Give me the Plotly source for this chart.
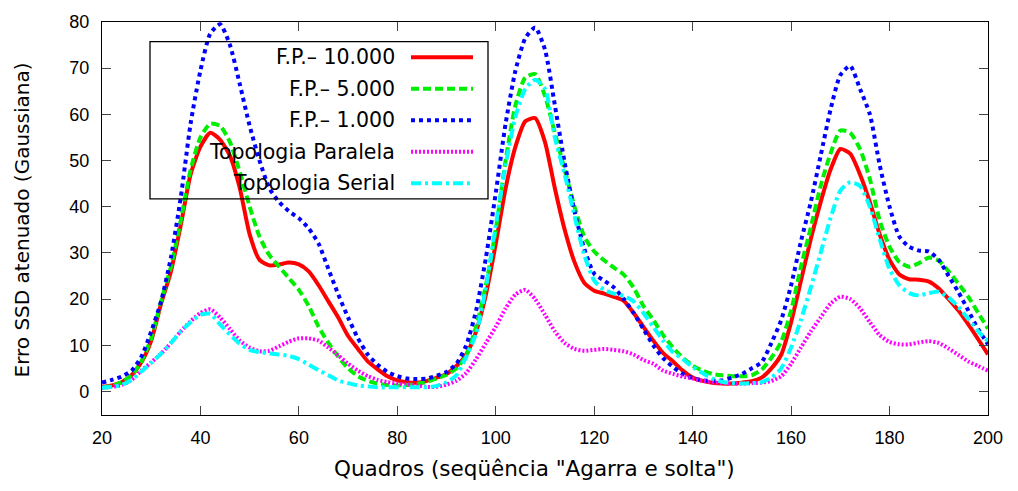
import plotly.graph_objects as go

frames = list(range(20, 201, 2))

fp_10000 = [1.0, 1.3, 2.0, 3.5, 6.3, 11, 19, 26, 36, 47, 53, 56, 54.5, 51, 44, 34, 28.5, 27.3, 27.5, 27.9,
            27.5, 26, 23, 19.5, 16, 12, 9.2, 6.5, 4.8, 3.3, 2.4, 2.0, 1.9, 2.3, 3.0, 3.8, 5.5, 8, 13, 21,
            32, 44, 53, 58.5, 59.2, 54, 44, 35, 28, 23.5, 21.8, 21.2, 20.5, 19.6, 17, 14, 11, 8.3, 6.5, 4.5,
            3, 2.3, 1.9, 1.7, 1.7, 1.9, 2.2, 3, 5, 8, 15, 24, 33, 41, 48, 52.5, 51.5, 47, 41, 34,
            28.5, 25.3, 24.3, 24.2, 23.8, 22.3, 20, 17.5, 14.5, 11.3, 8]

fp_5000 = [0.8, 1.2, 2.0, 3.5, 6.5, 11.5, 19.5, 27, 37, 48, 55, 58, 57.5, 54, 47.5, 40, 33.5, 29.5, 27, 24.5,
           22, 18.5, 14, 10.5, 7.5, 5, 3.3, 2.3, 1.7, 1.4, 1.3, 1.4, 1.6, 2.1, 2.8, 3.6, 5, 7.8, 14, 23,
           35, 50, 62, 68, 68.7, 64, 56, 48, 40, 33.5, 30.3, 28.4, 26.8, 25.3, 22.5, 18.5, 15.5, 12.2, 9.5, 7.3,
           5.6, 4.5, 3.8, 3.5, 3.3, 3.3, 3.5, 4.7, 7.3, 10.8, 17.5, 27, 35.5, 44.5, 51.5, 56.5, 56, 52.5, 46, 37,
           31.3, 28, 27, 27.8, 29, 28.3, 26, 23.3, 20.5, 17, 13.6]

fp_1000 = [1.9, 2.5, 3.2, 4.5, 7.5, 13, 19.5, 29, 42, 58, 69.5, 77.5, 79.5, 75, 66.5, 57.5, 50, 44, 41, 39,
           37.5, 35.3, 32, 26.5, 21, 16, 11.5, 8, 5.8, 4.2, 3.3, 2.8, 2.7, 2.8, 3.4, 4.2, 6, 10, 17.5, 29,
           43, 58, 69.5, 76.5, 78.8, 74, 62, 49.5, 39, 30.8, 25.5, 24, 22.5, 20, 17, 13.5, 10, 7.2, 5.3, 3.8,
           2.9, 2.4, 2.3, 2.4, 3, 3.8, 5, 6.3, 10.5, 15.5, 23, 32.5, 41, 51, 61, 68.5, 70.5, 65.5, 60, 49,
           40, 33.5, 31.3, 30.5, 30.3, 28.5, 25, 21.5, 17.5, 13.5, 10.2]

paralela = [0.8, 1.0, 1.4, 2.5, 4.5, 6.3, 8.2, 10.5, 13, 15.2, 17, 17.8, 16, 13.5, 11, 9.5, 8.7, 8.8, 9.8, 10.8,
            11.5, 11.5, 11, 9.5, 7.8, 6, 4.5, 3.3, 2.5, 2, 1.7, 1.5, 1.3, 1.0, 1.0, 1.5, 2.3, 4, 7, 10.5,
            14, 18, 21, 22, 20, 16.6, 13, 10.5, 9.2, 8.8, 9, 9.2, 9, 8.7, 8, 6.8, 6, 4.5, 3.8, 3.2,
            2.8, 2.3, 2.0, 1.8, 1.7, 1.7, 1.8, 1.9, 2.3, 3.3, 6, 9.5, 13, 16, 19, 20.5, 20, 18, 15, 12.2,
            10.7, 10.2, 10.2, 10.6, 10.9, 10.5, 9.3, 7.9, 6.5, 5.5, 4.5]

serial = [0.8, 1.0, 1.4, 2.5, 4.3, 6.2, 8.2, 10.5, 13, 15, 16.6, 16.8, 14.5, 12.3, 10.3, 9, 8.5, 8.3, 8.0, 7.7,
          7, 5.8, 4.6, 3.5, 2.4, 1.8, 1.3, 1.1, 0.9, 0.9, 0.9, 0.9, 0.9, 0.9, 1.2, 2.0, 3.5, 7.5, 12.5, 22.5,
          36, 49, 59.5, 65.5, 67.5, 65.5, 55, 47, 38, 29.5, 24, 22, 21.2, 20.7, 19.5, 17, 14, 11, 8.5, 7,
          5.3, 4, 2.8, 2.1, 1.8, 1.7, 1.8, 2.0, 3.0, 5, 9.5, 15.5, 22.5, 30, 37.5, 43.5, 45.3, 44.5, 40, 33,
          26.5, 23, 21.3, 20.8, 21.3, 21.6, 20.3, 18.3, 15.7, 13, 10.9]

series_names = ["F.P.\u2013 10.000", "F.P.\u2013 5.000", "F.P.\u2013 1.000", "Topologia Paralela", "Topologia Serial"]
series_values = [fp_10000, fp_5000, fp_1000, paralela, serial]
colors = ["#ff0000", "#00ee00", "#0000ff", "#ff00ff", "#00ffff"]
dashes = ["solid", "8px,4px", "4px,4px", "2px,2px", "10px,4px,3px,4px"]

x_ticks = list(range(20, 201, 20))
y_ticks = list(range(0, 81, 10))

W, H = 1018, 491
L, R, T, B = 102, 988, 15, 415
TXT = "DejaVu Sans, sans-serif"
TICK = "Liberation Sans, Arial, sans-serif"

fig = go.Figure()
for name, vals, col, dsh in zip(series_names, series_values, colors, dashes):
    fig.add_trace(go.Scatter(x=frames, y=vals, mode="lines", name=name,
                             line=dict(color=col, width=4, dash=dsh, shape="spline", smoothing=0.6),
                             showlegend=False))

def px2paper(px, py):
    return (px - L) / (R - L), (B - py) / (B - T)

shapes = []
annotations = []
x0, y0 = px2paper(150, 195)
x1, y1 = px2paper(488, 35)
shapes.append(dict(type="rect", xref="paper", yref="paper", x0=x0, y0=y0, x1=x1, y1=y1,
                   line=dict(color="black", width=1.3), fillcolor="rgba(0,0,0,0)", layer="above"))
row_y = [51, 83, 115, 147, 179]
for name, col, dsh, ry in zip(series_names, colors, dashes, row_y):
    tx, ty = px2paper(397, ry)
    annotations.append(dict(x=tx, y=ty, xref="paper", yref="paper", text=name, showarrow=False,
                            xanchor="right", yanchor="middle",
                            font=dict(family=TXT, size=20.5, color="black")))
    sx0, sy = px2paper(411, ry)
    sx1, _ = px2paper(473, ry)
    shapes.append(dict(type="line", xref="paper", yref="paper", x0=sx0, x1=sx1, y0=sy, y1=sy,
                       line=dict(color=col, width=4, dash=dsh), layer="above"))

tx, ty = px2paper(534, 469)
annotations.append(dict(x=tx, y=ty, xref="paper", yref="paper",
                        text="Quadros (seq\u00fc\u00eancia \"Agarra e solta\")", showarrow=False,
                        xanchor="center", yanchor="middle",
                        font=dict(family=TXT, size=21.5, color="black")))
tx, ty = px2paper(22, 217)
annotations.append(dict(x=tx, y=ty, xref="paper", yref="paper",
                        text="Erro SSD atenuado (Gaussiana)", showarrow=False, textangle=-90,
                        xanchor="center", yanchor="middle",
                        font=dict(family=TXT, size=20, color="black")))

fig.update_layout(
    width=W, height=H,
    margin=dict(l=L, r=W - R, t=T, b=H - B),
    paper_bgcolor="white", plot_bgcolor="white",
    showlegend=False,
    shapes=shapes, annotations=annotations,
    font=dict(family=TICK, size=18, color="black"),
)
fig.update_xaxes(range=[20, 200], tickvals=x_ticks, ticks="inside", ticklen=9, tickwidth=1,
                 showline=True, linecolor="black", linewidth=1.3, mirror="ticks", showgrid=False,
                 zeroline=False, ticklabelstandoff=6)
fig.update_yaxes(range=[-5.1, 80], tickvals=y_ticks, ticks="inside", ticklen=9, tickwidth=1,
                 showline=True, linecolor="black", linewidth=1.3, mirror="ticks", showgrid=False,
                 zeroline=False, ticklabelstandoff=8)

fig.write_html("out.html")
